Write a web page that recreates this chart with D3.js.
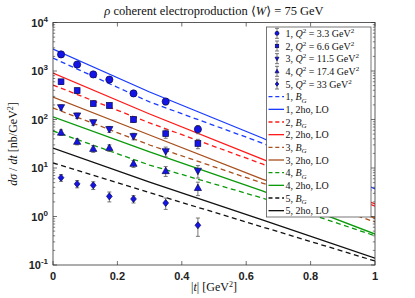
<!DOCTYPE html>
<html><head><meta charset="utf-8">
<script src="https://cdn.jsdelivr.net/npm/d3@7"></script>
<style>
html,body{margin:0;padding:0;background:#fff;}
svg{display:block;}
.tick text{font-family:"Liberation Sans",Arial,sans-serif;font-weight:bold;font-size:11px;fill:#222;}
</style></head>
<body><svg id="c" width="415" height="298"></svg>
<script>
// ---------- data ----------
const tPoints = [0.025, 0.075, 0.125, 0.175, 0.25, 0.35, 0.45];
const seriesNames = ["1, Q² = 3.3 GeV²","2, Q² = 6.6 GeV²","3, Q² = 11.5 GeV²","4, Q² = 17.4 GeV²","5, Q² = 33 GeV²"];
const q2Labels = ["3.3","6.6","11.5","17.4","33"];
const s1 = [2200, 1360, 850, 665, 345, 235, 63];
const s2 = [600, 395, 213, 195, 100, 51, 32];
const s3 = [178, 120, 87, 63, 45, 22, 8.7];
const s4 = [54, 35, 25, 26, 12.3, 8.7, 3.9];
const s5 = [6.3, 4.7, 4.4, 2.6, 2.3, 1.9, 0.66];
const e1 = [250, 160, 100, 80, 40, 35, 12];
const e2 = [70, 50, 25, 25, 13, 10, 7];
const e3 = [22, 15, 11, 9, 7, 5, 2.5];
const e4 = [7, 5, 4, 4, 2, 2, 1.2];
const e5 = [1.0, 0.8, 0.8, 0.6, 0.4, 0.5, 0.27];
const markers = ["circle","square","tridown","triup","diamond"];

const tLine = [0, 0.3, 0.65, 1];
const bg1 = [1850, 230, 32.7, 3.2];
const lo1 = [2840, 369, 41.6, 3.7];
const bg2 = [514, 85, 12.1, 1.64];
const lo2 = [910, 130, 15.3, 1.81];
const bg3 = [173, 29.8, 4.9, 0.77];
const lo3 = [291, 47.9, 5.9, 0.93];
const bg4 = [58, 11.5, 2.4, 0.40];
const lo4 = [113, 21.4, 3.36, 0.435];
const bg5 = [12.7, 3.1, 0.61, 0.121];
const lo5 = [25.8, 5.14, 0.85, 0.139];
const lineColors = ["#1a3cff","#ff1a1a","#a8501e","#0a9a0a","#111111"];

const xTicks = [0, 0.2, 0.4, 0.6, 0.8, 1];
const xTickLabels = ["0","0.2","0.4","0.6","0.8","1"];
const yTicks = [0.1, 1, 10, 100, 1000, 10000];
const yTickExps = ["-1","0","1","2","3","4"];

// ---------- layout ----------
const L = 53, R = 375, T = 22.5, B = 265;
const svg = d3.select("#c");
const x = d3.scaleLinear().domain([0,1]).range([L,R]);
const y = d3.scaleLog().domain([0.1,10000]).range([B,T]);

svg.append("defs").append("clipPath").attr("id","clip")
  .append("rect").attr("x",L).attr("y",T).attr("width",R-L).attr("height",B-T);

const plot = svg.append("g").attr("clip-path","url(#clip)");

// lines
const lineGen = d3.line().x(d=>x(d[0])).y(d=>y(d[1]));
const bgs = [bg1,bg2,bg3,bg4,bg5], los = [lo1,lo2,lo3,lo4,lo5];
for (let i=0;i<5;i++){
  plot.append("path").attr("d", lineGen(tLine.map((t,j)=>[t,bgs[i][j]])))
    .attr("fill","none").attr("stroke",lineColors[i]).attr("stroke-width",1.3).attr("stroke-dasharray","5,3.5");
  plot.append("path").attr("d", lineGen(tLine.map((t,j)=>[t,los[i][j]])))
    .attr("fill","none").attr("stroke",lineColors[i]).attr("stroke-width",1.3);
}

// markers
function marker(g, type, cx, cy, s){
  const fill="#1414e6", stroke="#0a0a50";
  let el;
  if(type==="circle") el=g.append("circle").attr("cx",cx).attr("cy",cy).attr("r",s);
  else if(type==="square") el=g.append("rect").attr("x",cx-s*0.85).attr("y",cy-s*0.85).attr("width",s*1.7).attr("height",s*1.7);
  else if(type==="tridown") el=g.append("path").attr("d",`M${cx-s},${cy-s*0.75}L${cx+s},${cy-s*0.75}L${cx},${cy+s*1.05}Z`);
  else if(type==="triup") el=g.append("path").attr("d",`M${cx-s},${cy+s*0.75}L${cx+s},${cy+s*0.75}L${cx},${cy-s*1.05}Z`);
  else el=g.append("path").attr("d",`M${cx},${cy-s*1.1}L${cx+s*0.9},${cy}L${cx},${cy+s*1.1}L${cx-s*0.9},${cy}Z`);
  el.attr("fill",fill).attr("stroke",stroke).attr("stroke-width",0.7);
}
function errbar(g, cx, y0, y1){
  g.append("line").attr("x1",cx).attr("x2",cx).attr("y1",y0).attr("y2",y1).attr("stroke","#666").attr("stroke-width",0.9);
  g.append("line").attr("x1",cx-2).attr("x2",cx+2).attr("y1",y0).attr("y2",y0).attr("stroke","#666").attr("stroke-width",0.9);
  g.append("line").attr("x1",cx-2).attr("x2",cx+2).attr("y1",y1).attr("y2",y1).attr("stroke","#666").attr("stroke-width",0.9);
}
const vals=[s1,s2,s3,s4,s5], errs=[e1,e2,e3,e4,e5];
const sizes=[3.6,3.4,3.6,3.6,3.2];
for(let i=0;i<5;i++){
  tPoints.forEach((t,j)=>{
    const v=vals[i][j], e=errs[i][j];
    errbar(plot, x(t), y(v+e), y(Math.max(v-e,0.11)));
  });
  tPoints.forEach((t,j)=>marker(plot, markers[i], x(t), y(vals[i][j]), sizes[i]));
}

// axes box and ticks
const ax = svg.append("g");
ax.append("rect").attr("x",L).attr("y",T).attr("width",R-L).attr("height",B-T)
  .attr("fill","none").attr("stroke","#333").attr("stroke-width",0.8);
const tk = "#333";
xTicks.forEach(v=>{
  ax.append("line").attr("x1",x(v)).attr("x2",x(v)).attr("y1",B).attr("y2",B-4).attr("stroke",tk).attr("stroke-width",0.7);
  ax.append("line").attr("x1",x(v)).attr("x2",x(v)).attr("y1",T).attr("y2",T+4).attr("stroke",tk).attr("stroke-width",0.7);
});
yTicks.forEach(v=>{
  [[L,L+4],[R,R-4]].forEach(p=>ax.append("line").attr("x1",p[0]).attr("x2",p[1]).attr("y1",y(v)).attr("y2",y(v)).attr("stroke",tk).attr("stroke-width",0.7));
});
for(let d=0.1; d<10000; d*=10){
  for(let k=2;k<=9;k++){
    const v=d*k;
    [[L,L+2.2],[R,R-2.2]].forEach(p=>ax.append("line").attr("x1",p[0]).attr("x2",p[1]).attr("y1",y(v)).attr("y2",y(v)).attr("stroke",tk).attr("stroke-width",0.6));
  }
}
// tick labels
const lblFont='"Liberation Sans",Arial,sans-serif';
xTicks.forEach((v,i)=>{
  svg.append("text").attr("x",x(v)).attr("y",B+15).attr("text-anchor","middle")
    .attr("font-family",lblFont).attr("font-weight","bold").attr("font-size",11).attr("fill","#222").text(xTickLabels[i]);
});
yTicks.forEach((v,i)=>{
  const t=svg.append("text").attr("x",L-5).attr("y",y(v)+4).attr("text-anchor","end")
    .attr("font-family",lblFont).attr("font-weight","bold").attr("font-size",11).attr("fill","#222");
  t.append("tspan").text("10");
  t.append("tspan").attr("dy",-5).attr("font-size",8).text(yTickExps[i]);
});

// titles
const serif='"Liberation Serif","DejaVu Serif",serif';
const title=svg.append("text").attr("x",214).attr("y",15).attr("text-anchor","middle")
  .attr("font-family",serif).attr("font-size",12.5).attr("fill","#111");
title.append("tspan").attr("font-style","italic").text("ρ");
title.append("tspan").text(" coherent electroproduction ⟨");
title.append("tspan").attr("font-style","italic").text("W");
title.append("tspan").text("⟩ = 75 GeV");

const xl=svg.append("text").attr("x",214).attr("y",291).attr("text-anchor","middle")
  .attr("font-family",serif).attr("font-size",12).attr("fill","#111");
xl.append("tspan").text("|");
xl.append("tspan").attr("font-style","italic").text("t");
xl.append("tspan").text("|  [GeV");
xl.append("tspan").attr("dy",-4).attr("font-size",8).text("2");
xl.append("tspan").attr("dy",4).text("]");

const yl=svg.append("text").attr("transform","translate(17,144) rotate(-90)").attr("text-anchor","middle")
  .attr("font-family",serif).attr("font-size",12).attr("fill","#111");
yl.append("tspan").attr("font-style","italic").text("dσ");
yl.append("tspan").text(" / ");
yl.append("tspan").attr("font-style","italic").text("dt");
yl.append("tspan").text("  [nb/GeV");
yl.append("tspan").attr("dy",-4).attr("font-size",8).text("2");
yl.append("tspan").attr("dy",4).text("]");

// legend
const lg = svg.append("g");
const LX0=266.5, LX1=371, LY0=27, LY1=217;
lg.append("rect").attr("x",LX0).attr("y",LY0).attr("width",LX1-LX0).attr("height",LY1-LY0)
  .attr("fill","#fff").attr("stroke","#555").attr("stroke-width",0.8);
const rowH=(LY1-LY0)/15;
function legText(yy){
  return lg.append("text").attr("x",285.5).attr("y",yy+3.5).attr("font-family",serif).attr("font-size",10).attr("fill","#111");
}
for(let i=0;i<5;i++){
  const yy=LY0+rowH*(i+0.5);
  errbar(lg, 277, yy-5, yy+5);
  marker(lg, markers[i], 277, yy, 2);
  const t=legText(yy);
  t.append("tspan").text((i+1)+", ");
  t.append("tspan").attr("font-style","italic").text("Q");
  t.append("tspan").attr("dy",-4).attr("font-size",7).text("2");
  t.append("tspan").attr("dy",4).text(" = "+q2Labels[i]+" GeV");
  t.append("tspan").attr("dy",-4).attr("font-size",7).text("2");
}
for(let i=0;i<5;i++){
  for(let k=0;k<2;k++){
    const yy=LY0+rowH*(5+i*2+k+0.5);
    lg.append("line").attr("x1",268.5).attr("x2",284).attr("y1",yy).attr("y2",yy)
      .attr("stroke",lineColors[i]).attr("stroke-width",1.3).attr("stroke-dasharray",k===0?"4,2.8":null);
    const t=legText(yy);
    if(k===0){
      t.append("tspan").text((i+1)+", ");
      t.append("tspan").attr("font-style","italic").text("B");
      t.append("tspan").attr("dy",2.5).attr("font-size",7).attr("font-style","italic").text("G");
    } else {
      t.text((i+1)+", 2ho, LO");
    }
  }
}
</script></body></html>
